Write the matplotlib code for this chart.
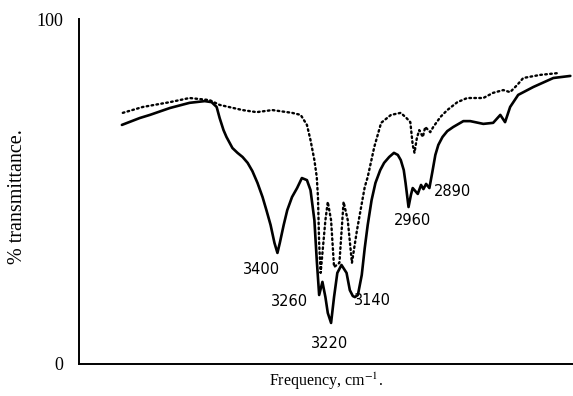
import numpy as np
import matplotlib
matplotlib.use("Agg")
import matplotlib.pyplot as plt

plt.rcParams['mathtext.fontset'] = 'stix'

# solid trace (wavenumber, % transmittance)
solid_nu = [3922, 3862, 3828, 3761, 3695, 3644, 3621, 3604, 3594, 3581, 3571, 3551,
            3534, 3517, 3500, 3484, 3467, 3450, 3437, 3423, 3410, 3400, 3392, 3379,
            3367, 3351, 3334, 3318, 3301, 3289, 3276, 3268, 3260, 3249, 3239, 3231,
            3220, 3210, 3199, 3185, 3168, 3157, 3147, 3140, 3130, 3117, 3107, 3097,
            3084, 3071, 3055, 3042, 3025, 3009, 2996, 2986, 2976, 2970, 2960, 2952,
            2946, 2929, 2918, 2910, 2901, 2890, 2880, 2870, 2860, 2846, 2830, 2810,
            2776, 2753, 2709, 2676, 2652, 2636, 2619, 2592, 2541, 2474, 2417]
solid_T = [69.3, 71.3, 72.2, 74.2, 75.7, 76.2, 75.9, 74.5, 71.3, 67.8, 65.8, 62.6,
           61.2, 60.0, 58.3, 55.9, 52.5, 48.4, 44.6, 40.3, 35.1, 32.2, 35.1, 40.3,
           44.6, 48.4, 51.0, 53.9, 53.3, 50.4, 41.7, 30.1, 20.0, 23.8, 19.4, 14.8,
           11.9, 19.4, 26.4, 28.7, 26.4, 21.4, 19.7, 19.4, 20.0, 25.8, 33.6, 40.3,
           47.5, 52.5, 56.2, 58.3, 60.0, 61.2, 60.6, 59.1, 56.2, 52.5, 45.5, 49.0,
           51.0, 49.3, 51.9, 50.7, 52.2, 51.0, 55.7, 60.6, 63.5, 65.8, 67.5, 68.7,
           70.4, 70.4, 69.6, 69.9, 72.2, 70.1, 74.5, 78.0, 80.3, 82.9, 83.5]

# dotted trace
dot_nu = [3919, 3852, 3761, 3695, 3628, 3594, 3517, 3470, 3417, 3351, 3322, 3301,
          3289, 3276, 3268, 3264, 3260, 3255, 3239, 3231, 3220, 3210, 3192, 3178,
          3164, 3150, 3133, 3107, 3097, 3075, 3052, 3019, 2986, 2967, 2954, 2946,
          2940, 2932, 2924, 2912, 2904, 2887, 2877, 2853, 2830, 2796, 2763, 2753,
          2709, 2676, 2642, 2619, 2595, 2575, 2518, 2461]
dot_T = [72.8, 74.5, 75.9, 77.1, 76.5, 75.1, 73.6, 73.0, 73.6, 72.8, 72.2, 69.3,
         64.9, 59.1, 54.2, 48.4, 35.1, 26.4, 41.7, 47.0, 41.7, 28.1, 29.3, 47.0,
         41.7, 29.3, 38.8, 51.3, 54.2, 62.9, 69.9, 72.2, 72.8, 71.3, 70.1, 63.5,
         61.2, 65.5, 67.8, 65.8, 68.7, 67.2, 68.7, 71.6, 73.6, 75.9, 77.1, 77.1,
         77.1, 78.6, 79.4, 78.8, 80.9, 82.9, 83.8, 84.3]

# handwritten band labels
band_labels = ["3400", "3260", "3220", "3140", "2960", "2890"]
label_nu = [3454, 3359, 3225, 3081, 2946, 2813]
label_T = [27.5, 18.0, 5.8, 18.3, 41.7, 49.9]

fig = plt.figure(figsize=(5.73, 3.96), dpi=100)
ax = fig.add_axes([79 / 573, 32 / 396, 1 - 79 / 573, 345 / 396])

ax.plot(solid_nu, solid_T, color='black', lw=1.9, solid_capstyle='round')
ax.plot(dot_nu, dot_T, color='black', lw=1.7, linestyle=(0, (0.7, 1.4)),
        dash_capstyle='round')

for txt, x, y in zip(band_labels, label_nu, label_T):
    ax.text(x, y, txt, ha='center', va='center', fontsize=10.5,
            family='DejaVu Sans', color='black')

ax.set_xlim(4066, 2408)
ax.set_ylim(0, 100)
ax.set_xticks([])
ax.set_yticks([0, 100])
ax.set_yticklabels(['0', '100'], family='Liberation Serif', fontsize=13)
ax.tick_params(axis='y', length=0, pad=11)

for s in ['top', 'right']:
    ax.spines[s].set_visible(False)
for s in ['left', 'bottom']:
    ax.spines[s].set_linewidth(1.4)

ax.set_xlabel('Frequency, cm$^{-1}$.', family='Liberation Serif', fontsize=11.5,
              labelpad=5)
ax.set_ylabel('% transmittance.', family='Liberation Serif', fontsize=14.5)
ax.yaxis.set_label_coords(-52 / 494, 0.485)

fig.savefig('out.png', dpi=100)
